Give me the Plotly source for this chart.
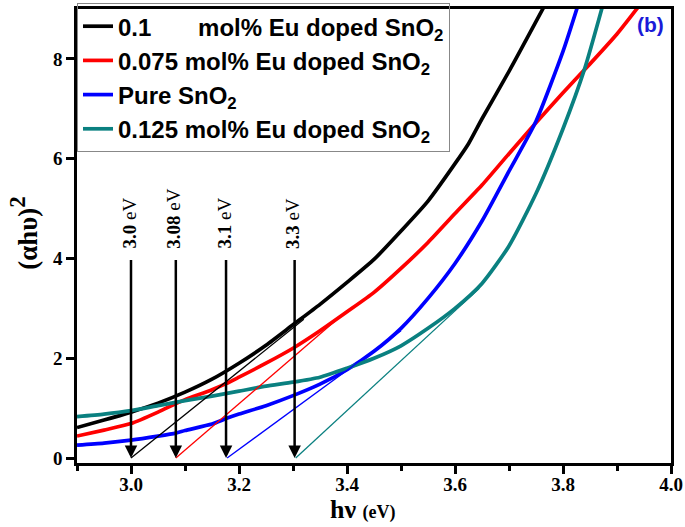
import plotly.graph_objects as go

# ---------------- data ----------------
x_black = [2.90, 2.95, 3.00, 3.05, 3.10, 3.15, 3.20, 3.25, 3.30, 3.35, 3.40, 3.45, 3.50, 3.55, 3.60, 3.625, 3.65, 3.70, 3.765]
y_black = [0.61, 0.76, 0.92, 1.10, 1.32, 1.58, 1.90, 2.26, 2.67, 3.08, 3.52, 3.98, 4.55, 5.15, 5.90, 6.30, 6.80, 7.75, 9.05]

x_red = [2.90, 2.95, 3.00, 3.05, 3.083, 3.10, 3.15, 3.176, 3.20, 3.25, 3.30, 3.35, 3.40, 3.45, 3.50, 3.55, 3.60, 3.65, 3.70, 3.75, 3.80, 3.85, 3.90, 3.94]
y_red = [0.44, 0.56, 0.69, 0.92, 1.09, 1.17, 1.37, 1.49, 1.62, 1.90, 2.20, 2.55, 2.93, 3.32, 3.80, 4.32, 4.90, 5.47, 6.10, 6.72, 7.32, 7.90, 8.50, 9.05]

x_blue = [2.90, 2.95, 3.00, 3.05, 3.083, 3.10, 3.15, 3.176, 3.20, 3.25, 3.30, 3.35, 3.40, 3.45, 3.50, 3.55, 3.60, 3.65, 3.70, 3.75, 3.80, 3.827]
y_blue = [0.26, 0.30, 0.36, 0.44, 0.50, 0.55, 0.68, 0.79, 0.88, 1.05, 1.25, 1.48, 1.77, 2.14, 2.60, 3.20, 3.90, 4.75, 5.75, 6.75, 8.15, 9.05]

x_teal = [2.90, 2.95, 3.00, 3.05, 3.10, 3.15, 3.20, 3.25, 3.30, 3.35, 3.40, 3.45, 3.50, 3.55, 3.60, 3.65, 3.70, 3.75, 3.80, 3.84, 3.873]
y_teal = [0.83, 0.88, 0.95, 1.05, 1.15, 1.24, 1.34, 1.44, 1.52, 1.62, 1.80, 2.00, 2.25, 2.60, 3.00, 3.50, 4.25, 5.30, 6.60, 7.80, 9.05]

# tangent (Tauc) lines: x-intercept, end point
tan_x0 = [3.000, 3.083, 3.178, 3.305]
tan_x1 = [3.320, 3.400, 3.500, 3.645]
tan_y1 = [2.78, 2.95, 2.55, 3.40]

# band-gap arrows
arrow_x = [3.000, 3.083, 3.176, 3.303]
arrow_top = 4.0
arrow_num = ["3.0", "3.08", "3.1", "3.3"]

names = [
    "0.1\u00a0\u00a0\u00a0\u00a0\u00a0\u00a0 mol% Eu doped SnO<sub>2</sub>",
    "0.075 mol% Eu doped SnO<sub>2</sub>",
    "Pure SnO<sub>2</sub>",
    "0.125 mol% Eu doped SnO<sub>2</sub>",
]
colors = ["#000000", "#ff0000", "#0000ff", "#0a8080"]

# ---------------- figure ----------------
fig = go.Figure()

curves = [(x_black, y_black), (x_red, y_red), (x_blue, y_blue), (x_teal, y_teal)]
for i, (xs, ys) in enumerate(curves):
    fig.add_trace(go.Scatter(
        x=xs, y=ys, mode="lines", name=names[i], legendgroup=f"g{i}",
        line=dict(color=colors[i], width=3.7, shape="spline", smoothing=0.6),
    ))

for i in range(4):
    fig.add_trace(go.Scatter(
        x=[tan_x0[i], tan_x1[i]], y=[0, tan_y1[i]], mode="lines",
        line=dict(color=colors[i], width=1.3), showlegend=False, hoverinfo="skip",
    ))

for xa, num in zip(arrow_x, arrow_num):
    fig.add_annotation(
        x=xa, y=0, ax=xa, ay=arrow_top, xref="x", yref="y", axref="x", ayref="y",
        text="", showarrow=True, arrowhead=2, arrowsize=1.0, arrowwidth=2.5,
        arrowcolor="black", standoff=0, startstandoff=0,
    )
    fig.add_annotation(
        x=xa, y=arrow_top + 0.15, xref="x", yref="y", xshift=-2,
        text=f"<b>{num}</b> eV", textangle=-90, showarrow=False,
        xanchor="center", yanchor="bottom",
        font=dict(family="Liberation Serif", size=19, color="black"),
    )

serif = "Liberation Serif"
fig.add_annotation(
    xref="paper", yref="paper", x=-0.09, y=0.506,
    text="(αhυ)<sup><span style='font-size:23px'>2</span></sup>", textangle=-90,
    showarrow=False, xanchor="center", yanchor="middle",
    font=dict(family=serif, size=27, color="black", weight="bold"),
)
fig.add_annotation(
    xref="paper", yref="paper", x=0.482, y=-0.103,
    text="hν <span style='font-size:18px'>(eV)</span>",
    showarrow=False, xanchor="center", yanchor="middle",
    font=dict(family=serif, size=26, color="black", weight="bold"),
)
fig.add_annotation(
    xref="paper", yref="paper", x=0.966, y=0.965,
    text="(b)", showarrow=False, xanchor="center", yanchor="middle",
    font=dict(family="Liberation Sans", size=21, color="#1a1ad8", weight="bold"),
)

axis_common = dict(
    showline=True, linecolor="black", linewidth=2.5, mirror=True,
    ticks="outside", tickcolor="black", tickwidth=2.5, ticklen=8,
    showgrid=False, zeroline=False,
    tickfont=dict(family=serif, size=19, color="black", weight="bold"),
)
fig.update_xaxes(
    range=[2.9, 4.0], tickvals=[3.0, 3.2, 3.4, 3.6, 3.8, 4.0],
    ticktext=["3.0", "3.2", "3.4", "3.6", "3.8", "4.0"],
    minor=dict(tickvals=[2.9, 3.1, 3.3, 3.5, 3.7, 3.9], ticks="outside", ticklen=5,
               tickwidth=2.5, tickcolor="black"),
    ticklabelstandoff=-6,
    **axis_common,
)
fig.update_yaxes(
    range=[-0.1, 9.0], tickvals=[0, 2, 4, 6, 8], **axis_common,
)

fig.update_layout(
    width=685, height=527,
    margin=dict(l=77, r=14, t=3, b=64),
    paper_bgcolor="white", plot_bgcolor="white",
    showlegend=True,
    legend=dict(
        x=0, y=1.013, xanchor="left", yanchor="top",
        bgcolor="rgba(255,255,255,0)", bordercolor="#888888", borderwidth=1,
        font=dict(family="Liberation Sans", size=24, color="black", weight="bold"),
        itemwidth=30, tracegroupgap=3, traceorder="normal",
    ),
)

fig.write_html(
    "out.html",
    config={"displayModeBar": False},
    post_script="document.body.style.margin='0';document.body.style.padding='0';",
)
